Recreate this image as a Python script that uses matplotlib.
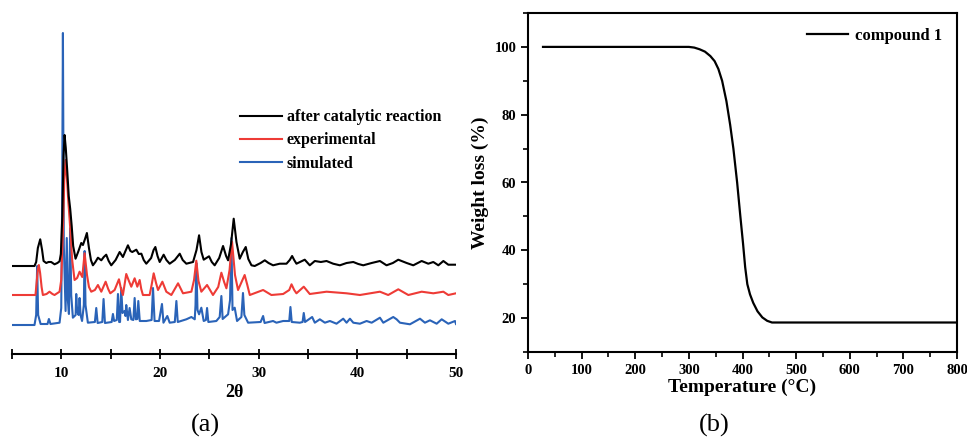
import matplotlib
matplotlib.use('Agg')
import matplotlib.pyplot as plt
from matplotlib.ticker import MultipleLocator

plt.rcParams['font.family'] = ['Liberation Serif', 'DejaVu Serif']

# (a) PXRD patterns, 2-theta vs intensity (a.u.)
black_2theta = [5.0, 7.28, 7.45, 7.62, 7.86, 8.05, 8.2, 8.47, 8.7, 8.97, 9.31, 9.6, 9.82, 9.95, 10.1, 10.22, 10.33,
                10.45, 10.6, 10.75, 10.9, 11.05, 11.2, 11.44, 11.7, 12.02, 12.19, 12.4, 12.59, 12.8, 13.0, 13.20,
                13.45, 13.71, 14.05, 14.3, 14.55, 14.8, 15.06, 15.5, 15.91, 16.24, 16.5, 16.75, 17.0, 17.19, 17.60,
                17.85, 18.11, 18.35, 18.61, 19.1, 19.35, 19.53, 19.75, 19.97, 20.37, 20.65, 20.98, 21.5, 22.0,
                22.3, 22.67, 23.35, 23.7, 23.96, 24.2, 24.43, 24.97, 25.25, 25.54, 26.0, 26.39, 26.7, 26.90, 27.2,
                27.47, 27.75, 28.08, 28.4, 28.69, 28.95, 29.27, 29.6, 30.2, 30.62, 31.0, 31.46, 32.14, 32.82,
                33.15, 33.39, 33.6, 33.83, 34.67, 35.18, 35.69, 36.3, 36.88, 37.55, 38.23, 38.91, 39.59, 40.1,
                40.60, 41.45, 42.29, 42.96, 43.6, 44.15, 45.0, 45.67, 46.52, 47.19, 47.70, 48.21, 48.72, 49.22,
                50.0]
black_int = [0, 0, 4, 18, 26.7, 16, 5, 3, 4, 4, 1.7, 3, 4.7, 12, 50, 110, 131,
             118, 95, 70, 57, 40, 20, 7.3, 14, 23, 21, 27, 33, 18, 6, 0.7,
             4, 8.3, 5.7, 9, 11.3, 5, 0.7, 6, 14, 9, 15, 20.7, 15, 14, 16.3,
             12, 12.3, 6, 2.3, 8, 16, 19, 10, 4, 11.3, 6, 2.3, 6, 12.3,
             6, 2.3, 4, 16, 30.7, 14, 6.3, 9.7, 4, 0.7, 8, 20, 10, 5.7, 22,
             47.3, 24, 7.3, 14, 19, 7, 0.7, 0, 3, 5.7, 3, 0.7, 2.3, 2.3,
             6, 10, 6, 2.3, 6.3, 0.7, 5, 4, 5, 2.3, 0.7, 3, 4, 2,
             0.7, 3, 5, 0.7, 3, 6.3, 3, 0.7, 5, 2.3, 4, 0.7, 5, 1.3,
             1.3]

red_2theta = [5.0, 7.38, 7.52, 7.62, 7.72, 7.85, 8.0, 8.13, 8.5, 8.80, 9.1, 9.31, 9.82, 9.99, 10.15, 10.3, 10.43,
              10.55, 10.7, 10.9, 11.1, 11.34, 11.6, 11.85, 12.12, 12.36, 12.6, 12.8, 13.03, 13.4, 13.71, 14.05,
              14.49, 14.75, 14.96, 15.40, 15.84, 16.05, 16.24, 16.58, 16.85, 17.09, 17.43, 17.70, 17.94, 18.1,
              18.27, 18.95, 19.15, 19.36, 19.6, 19.80, 20.24, 20.64, 21.15, 21.83, 22.33, 23.18, 23.45, 23.68,
              23.9, 24.19, 24.77, 25.37, 25.9, 26.22, 26.5, 26.73, 27.05, 27.30, 27.6, 27.91, 28.58, 28.85,
              29.10, 30.45, 31.29, 32.48, 33.1, 33.33, 33.6, 33.83, 34.57, 35.18, 36.88, 38.91, 40.26, 42.29,
              43.13, 44.15, 45.17, 46.52, 47.70, 48.72, 49.22, 50.0]
red_int = [0, 0, 15, 26, 30, 22, 8, 0, 1, 3.3, 1, 0, 3.3, 15, 60, 115, 135,
           120, 95, 67, 35, 15, 17, 23.3, 18, 41.7, 20, 8, 3.3, 5, 10, 3.3,
           13.3, 6, 1.7, 5, 15.7, 6, 0, 21, 14, 8.3, 16.7, 8.3, 15, 6,
           0, 0, 10, 21.7, 12, 5, 13.3, 3.3, 0, 11.7, 1.7, 3.3, 15, 34.3,
           14, 3.3, 10, 0, 8, 22.3, 13, 6.7, 25, 53.3, 20, 5, 20, 10,
           0, 5, 0, 1, 5, 10.7, 5, 1.7, 8.3, 1, 3.3, 1.7, 0, 3.3,
           0, 5.7, 0, 3.3, 1.7, 3.3, 0, 1.7]

blue_2theta = [5.0, 7.28, 7.45, 7.55, 7.65, 7.9, 8.6, 8.74, 8.9, 9.82, 9.99, 10.08, 10.16, 10.25, 10.43, 10.55,
               10.66, 10.77, 10.9, 11.0, 11.17, 11.45, 11.51, 11.6, 11.75, 11.85, 11.95, 12.1, 12.28, 12.36,
               12.45, 12.69, 13.4, 13.54, 13.68, 14.15, 14.28, 14.42, 15.1, 15.23, 15.35, 15.62, 15.74, 15.86,
               15.95, 16.07, 16.2, 16.41, 16.5, 16.58, 16.75, 16.92, 17.09, 17.3, 17.43, 17.55, 17.7, 17.8,
               17.95, 18.61, 19.15, 19.29, 19.45, 19.9, 20.2, 20.35, 20.74, 20.98, 21.5, 21.66, 21.8, 22.67,
               23.18, 23.52, 23.6, 23.68, 23.8, 23.96, 24.19, 24.43, 24.65, 24.77, 24.9, 25.71, 26.05, 26.22,
               26.35, 26.90, 27.1, 27.24, 27.35, 27.57, 27.81, 28.25, 28.41, 28.55, 28.93, 30.2, 30.45, 30.6,
               31.46, 31.8, 32.48, 33.1, 33.22, 33.35, 34.17, 34.45, 34.57, 34.7, 35.42, 35.69, 36.2, 36.71,
               37.22, 37.89, 38.57, 38.91, 39.25, 39.59, 40.26, 40.94, 41.45, 42.29, 42.63, 43.64, 43.98, 44.32,
               45.33, 46.35, 46.85, 47.36, 48.04, 48.55, 49.22, 49.90, 50.0]
blue_int = [0, 0, 10, 59, 10, 1, 1, 6, 1, 2.3, 17, 120, 292, 80, 14, 87,
            25, 11, 97, 30, 7.3, 10, 31, 14, 10, 27, 10, 4, 20, 74,
            20, 2.3, 3, 17, 2, 3, 26, 2, 3, 11, 4, 5, 31, 3,
            3, 37, 12, 14, 9, 20, 5, 17, 5.7, 5, 27, 5.7, 6, 24,
            4, 4, 5, 37, 4, 4, 21, 2.3, 9, 2.3, 3, 24, 3, 5.7,
            8, 5.7, 20, 62, 15, 10.7, 17.3, 4, 5, 17, 3, 4, 8, 29,
            6, 10.7, 25, 87, 15, 17.3, 4, 8, 32, 10, 2.3, 3, 9, 2,
            4, 2.3, 4, 4, 18, 3, 2.3, 3, 12, 3, 8, 2.3, 5.7, 2.3,
            4, 1.3, 6.3, 2.3, 6.3, 2.3, 1.3, 4, 2.3, 7.3, 2.3, 8, 5.7, 2.3,
            0.7, 6.3, 2.3, 4.7, 1.3, 5.7, 1.3, 4, 1]

pattern_offsets = {'after catalytic reaction': 88, 'experimental': 59, 'simulated': 29}

# (b) TGA curve
tga_temp = [28, 300, 310, 320, 330, 340, 348, 355, 362, 370, 377, 383, 390, 396, 401, 405, 409, 414,
            420, 428, 437, 446, 455, 800]
tga_weight = [100, 100, 99.8, 99.3, 98.6, 97.3, 95.8, 93.5, 90, 84, 77, 70, 60, 50, 42, 35, 30, 27,
              24.5, 22, 20.2, 19.2, 18.7, 18.7]

fig = plt.figure(figsize=(9.67, 4.40), dpi=100)

# ---- panel (a)
ax1 = fig.add_axes([12 / 967, 86 / 440, 444 / 967, 322 / 440])
series = [
    ('after catalytic reaction', black_2theta, black_int, 'black'),
    ('experimental', red_2theta, red_int, '#ee3b36'),
    ('simulated', blue_2theta, blue_int, '#2a63b8'),
]
# blue first so black/red end up on top, as in the original
for label, x, y, color in series[::-1]:
    off = pattern_offsets[label]
    ax1.plot(x, [v + off for v in y], color=color, lw=1.5, label=label, solid_joinstyle='round')

ax1.set_xlim(5, 50)
ax1.set_ylim(0, 322)
for side in ['left', 'right', 'top']:
    ax1.spines[side].set_visible(False)
ax1.spines['bottom'].set_linewidth(1.5)
ax1.set_yticks([])
ax1.xaxis.set_major_locator(MultipleLocator(10))
ax1.xaxis.set_minor_locator(MultipleLocator(5))
ax1.tick_params(axis='x', which='both', direction='inout', length=7, width=1.3, labelsize=11, pad=6)
for lbl in ax1.get_xticklabels():
    lbl.set_fontweight('bold')
ax1.set_xlabel('2θ', fontsize=13, fontweight='bold', labelpad=3)

handles, labels = ax1.get_legend_handles_labels()
ax1.legend(handles[::-1], labels[::-1], loc='upper left', bbox_to_anchor=(0.5, 0.78), frameon=False,
           prop={'weight': 'bold', 'size': 11.5}, handlelength=2.6, handletextpad=0.3, labelspacing=0.45,
           borderaxespad=0)

# ---- panel (b)
ax2 = fig.add_axes([528 / 967, 88 / 440, 429 / 967, 339 / 440])
ax2.plot(tga_temp, tga_weight, color='black', lw=1.6, label='compound 1')
ax2.set_xlim(0, 800)
ax2.set_ylim(10, 110)
ax2.xaxis.set_major_locator(MultipleLocator(100))
ax2.xaxis.set_minor_locator(MultipleLocator(50))
ax2.yaxis.set_minor_locator(MultipleLocator(10))
ax2.set_yticks([20, 40, 60, 80, 100])
for sp in ax2.spines.values():
    sp.set_linewidth(1.5)
ax2.tick_params(which='major', direction='out', length=5, width=1.3, labelsize=10.5)
ax2.tick_params(which='minor', direction='out', length=3.5, width=1.2)
for lbl in ax2.get_xticklabels() + ax2.get_yticklabels():
    lbl.set_fontweight('bold')
ax2.set_xlabel('Temperature (°C)', fontsize=14, fontweight='bold', labelpad=1)
ax2.set_ylabel('Weight loss (%)', fontsize=14, fontweight='bold', labelpad=4)
ax2.legend(loc='upper right', frameon=False, prop={'weight': 'bold', 'size': 12},
           handlelength=2.5, handletextpad=0.4, borderaxespad=0.5)

fig.text(205 / 967, 1 - 425 / 440, '(a)', fontsize=19, ha='center', va='center')
fig.text(714 / 967, 1 - 425 / 440, '(b)', fontsize=19, ha='center', va='center')

fig.savefig('out.png', dpi=100)
